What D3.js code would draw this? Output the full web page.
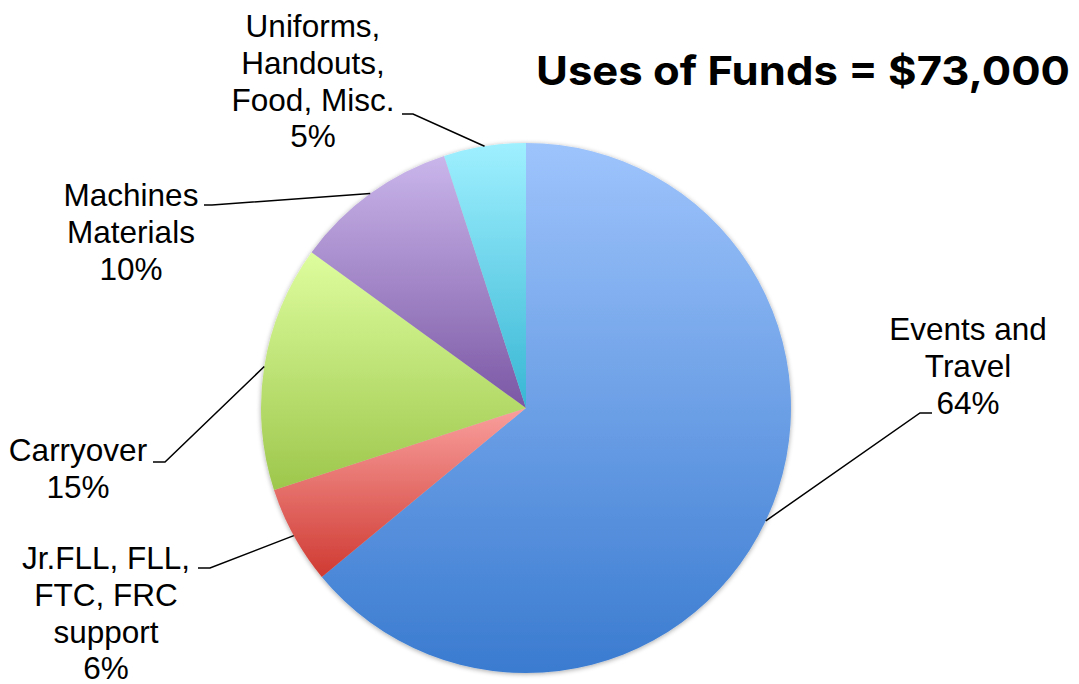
<!DOCTYPE html>
<html>
<head>
<meta charset="utf-8">
<script src="https://cdn.jsdelivr.net/npm/d3@7"></script>
<style>
  body { margin: 0; background: #fff; }
  .lbl { font-family: "Liberation Sans", Arial, sans-serif; font-size: 31.5px; fill: #000; }
  .title { font-family: "Inter", "Lato", sans-serif; font-weight: 700; font-size: 40px; fill: #000; }
</style>
</head>
<body>
<div id="chart"></div>
<script>
// data
var categories = ["Events and Travel", "Jr.FLL, FLL, FTC, FRC support", "Carryover", "Machines Materials", "Uniforms, Handouts, Food, Misc."];
var values = [64, 6, 15, 10, 5];
var labelLines = [
    ["Events and", "Travel", "64%"],
    ["Jr.FLL, FLL,", "FTC, FRC", "support", "6%"],
    ["Carryover", "15%"],
    ["Machines", "Materials", "10%"],
    ["Uniforms,", "Handouts,", "Food, Misc.", "5%"]
];
var topColors = ["#9ec4fc", "#f99f9d", "#defd9e", "#cab6eb", "#9ff0ff"];
var bottomColors = ["#3a7bd0", "#cf3a32", "#9dc74c", "#7b57a4", "#38b6d4"];

// layout of labels: text centre x, first baseline y, leader start x/y, elbow x
var labelLayout = [
    { x: 968, y: 340, lx: 932, ly: 413, ex: 920 },
    { x: 106, y: 569, lx: 198, ly: 568, ex: 210 },
    { x: 78,  y: 461, lx: 153, ly: 462, ex: 165 },
    { x: 131, y: 206, lx: 204, ly: 205, ex: 212 },
    { x: 313, y: 37,  lx: 402, ly: 114, ex: 413 }
];

var width = 1079, height = 684;
var cx = 526, cy = 408, radius = 265;
var lineH = 36.8;

var svg = d3.select("#chart").append("svg")
    .attr("width", width)
    .attr("height", height);

var defs = svg.append("defs");
categories.forEach(function(c, i) {
    var g = defs.append("linearGradient")
        .attr("id", "grad" + i)
        .attr("x1", 0).attr("y1", 0)
        .attr("x2", 0).attr("y2", 1);
    g.append("stop").attr("offset", 0).attr("stop-color", topColors[i]);
    g.append("stop").attr("offset", 1).attr("stop-color", bottomColors[i]);
});

var shadow = defs.append("filter").attr("id", "shadow")
    .attr("x", "-10%").attr("y", "-10%").attr("width", "120%").attr("height", "120%");
shadow.append("feGaussianBlur").attr("in", "SourceAlpha").attr("stdDeviation", 2.5);
shadow.append("feOffset").attr("dx", 0).attr("dy", 1).attr("result", "blur");
shadow.append("feComponentTransfer").append("feFuncA").attr("type", "linear").attr("slope", 0.35);
var merge = shadow.append("feMerge");
merge.append("feMergeNode");
merge.append("feMergeNode").attr("in", "SourceGraphic");

var pie = d3.pie().sort(null).value(function(d) { return d; });
var arcs = pie(values);

var arc = d3.arc().innerRadius(0).outerRadius(radius);
var edge = d3.arc().innerRadius(radius).outerRadius(radius);

var g = svg.append("g").attr("transform", "translate(" + cx + "," + cy + ")");

g.append("g").attr("filter", "url(#shadow)")
    .selectAll("path")
    .data(arcs)
    .enter().append("path")
    .attr("d", arc)
    .attr("fill", function(d, i) { return "url(#grad" + i + ")"; });

// leader lines
svg.append("g").selectAll("polyline")
    .data(arcs)
    .enter().append("polyline")
    .attr("fill", "none")
    .attr("stroke", "#000")
    .attr("stroke-width", 1.5)
    .attr("points", function(d, i) {
        var L = labelLayout[i];
        var p = edge.centroid(d);
        return [[L.lx, L.ly], [L.ex, L.ly], [cx + p[0], cy + p[1]]].join(" ");
    });

// labels
var lbl = svg.append("g").selectAll("text")
    .data(labelLines)
    .enter().append("text")
    .attr("class", "lbl")
    .attr("text-anchor", "middle");

lbl.each(function(lines, i) {
    var L = labelLayout[i];
    d3.select(this).selectAll("tspan")
        .data(lines)
        .enter().append("tspan")
        .attr("x", L.x)
        .attr("y", function(d, j) { return L.y + j * lineH; })
        .text(function(d) { return d; });
});

svg.append("text")
    .attr("class", "title")
    .attr("x", 536)
    .attr("y", 85)
    .attr("textLength", 534)
    .attr("lengthAdjust", "spacingAndGlyphs")
    .text("Uses of Funds = $73,000");
</script>
</body>
</html>
